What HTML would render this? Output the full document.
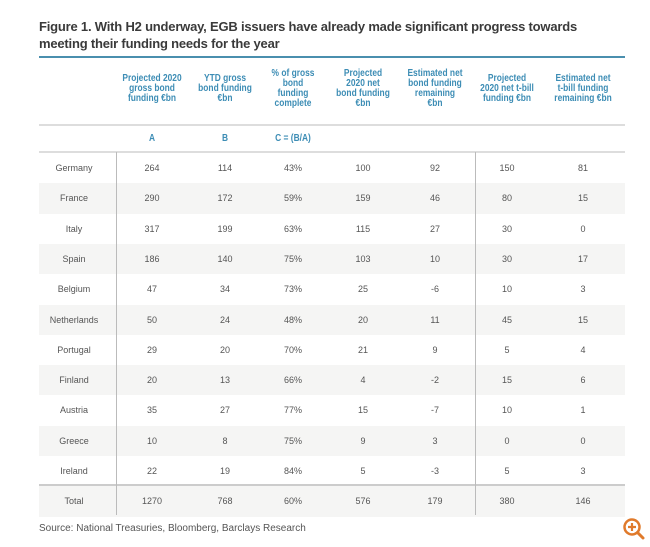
<!DOCTYPE html>
<html><head><meta charset="utf-8"><style>
body{margin:0;width:650px;height:547px;background:#fff;position:relative;overflow:hidden;font-family:"Liberation Sans",sans-serif}
.t{position:absolute;left:39px;top:18px;font-size:13px;font-weight:bold;color:#3a3a3a;line-height:17px;letter-spacing:-0.2px;white-space:nowrap}
.rule{position:absolute;left:39px;width:586px}
.h{position:absolute;text-align:center;font-size:10.5px;font-weight:bold;color:#3d8db5;line-height:10px;transform:translateX(-50%) scaleX(0.8);white-space:nowrap}
.c{position:absolute;text-align:center;font-size:9px;color:#555;transform:translate(-50%,-50%);white-space:nowrap}
.stripe{position:absolute;left:39px;width:586px;background:#f5f5f4}
</style></head><body>
<div class="t">Figure 1. With H2 underway, EGB issuers have already made significant progress towards<br>meeting their funding needs for the year</div>
<div class="rule" style="top:56px;height:2px;background:#4a8fae"></div>
<div class="h" style="left:152px;top:73px">Projected 2020<br>gross bond<br>funding €bn</div>
<div class="h" style="left:225px;top:73px">YTD gross<br>bond funding<br>€bn</div>
<div class="h" style="left:293px;top:68px">% of gross<br>bond<br>funding<br>complete</div>
<div class="h" style="left:363px;top:68px">Projected<br>2020 net<br>bond funding<br>€bn</div>
<div class="h" style="left:435px;top:68px">Estimated net<br>bond funding<br>remaining<br>€bn</div>
<div class="h" style="left:507px;top:73px">Projected<br>2020 net t-bill<br>funding €bn</div>
<div class="h" style="left:583px;top:73px">Estimated net<br>t-bill funding<br>remaining €bn</div>
<div class="rule" style="top:124px;height:2px;background:#ddd"></div>
<div class="h" style="left:152px;top:133px">A</div>
<div class="h" style="left:225px;top:133px">B</div>
<div class="h" style="left:293px;top:133px">C = (B/A)</div>
<div class="rule" style="top:151px;height:2px;background:#ddd"></div>
<div id="rows"></div>
<div class="rule" style="top:484px;height:2px;background:#ccc"></div>
<div style="position:absolute;left:116px;top:152px;width:1px;height:363px;background:#bbb"></div>
<div style="position:absolute;left:475px;top:152px;width:1px;height:363px;background:#bbb"></div>
<div style="position:absolute;left:39px;top:523px;font-size:10px;color:#555">Source: National Treasuries, Bloomberg, Barclays Research</div>
<svg style="position:absolute;left:622px;top:517px" width="24" height="24" viewBox="0 0 24 24"><circle cx="10" cy="10" r="7.5" fill="none" stroke="#e07a2b" stroke-width="2.5"/><line x1="15.5" y1="15.5" x2="21" y2="21" stroke="#e07a2b" stroke-width="3" stroke-linecap="round"/><path d="M10 6v8M6 10h8" stroke="#e07a2b" stroke-width="2.2"/></svg>
<script>
var d=[["Germany",264,114,"43%",100,92,150,81],["France",290,172,"59%",159,46,80,15],["Italy",317,199,"63%",115,27,30,0],["Spain",186,140,"75%",103,10,30,17],["Belgium",47,34,"73%",25,-6,10,3],["Netherlands",50,24,"48%",20,11,45,15],["Portugal",29,20,"70%",21,9,5,4],["Finland",20,13,"66%",4,-2,15,6],["Austria",35,27,"77%",15,-7,10,1],["Greece",10,8,"75%",9,3,0,0],["Ireland",22,19,"84%",5,-3,5,3],["Total",1270,768,"60%",576,179,380,146]];
var xs=[74,152,225,293,363,435,507,583],h="";
d.forEach(function(r,i){var top=153+i*30.3;if(i%2==1)h+='<div class="stripe" style="top:'+top+'px;height:30.3px"></div>';
r.forEach(function(v,j){h+='<div class="c" style="left:'+xs[j]+'px;top:'+(top+15)+'px">'+v+'</div>'})});
document.getElementById("rows").innerHTML=h;
</script>
</body></html>
